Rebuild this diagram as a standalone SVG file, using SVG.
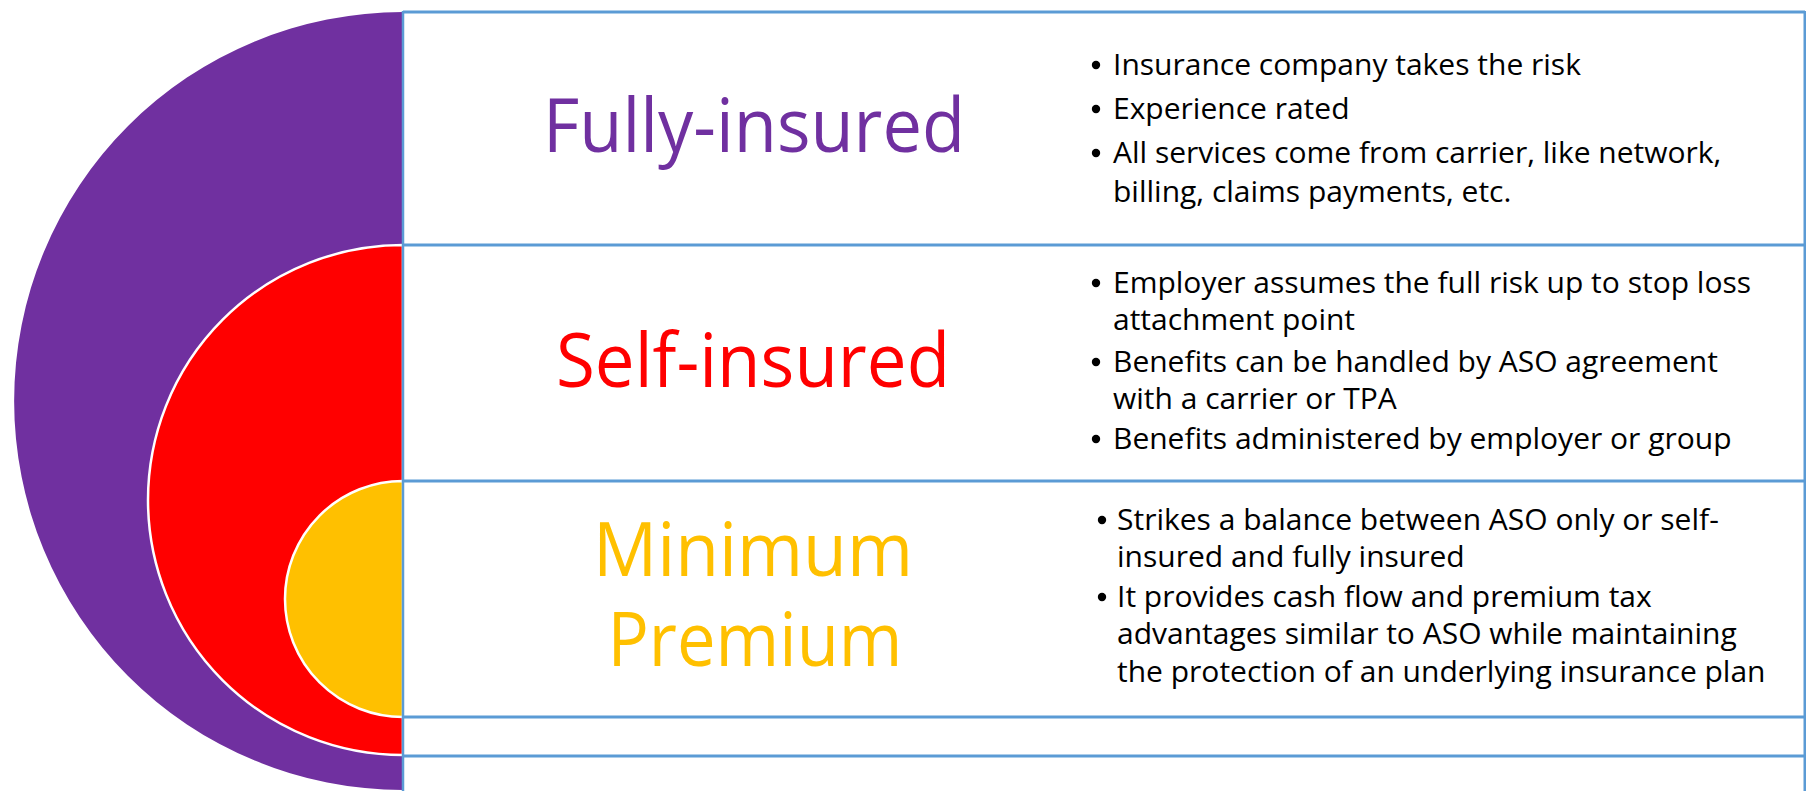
<svg xmlns="http://www.w3.org/2000/svg" width="1806" height="791" viewBox="0 0 1806 791">
<style>
.title{font-family:"Open Sans","Noto Sans","Liberation Sans",sans-serif;font-size:75px;text-anchor:middle}
.body{font-family:"Open Sans","Noto Sans","Liberation Sans",sans-serif;font-size:30px;fill:#000}
.dot{fill:#000}
.grid{stroke:#5B9BD5;stroke-width:3;fill:none}
.ring{stroke:#fff;stroke-width:2.5}
</style>
<rect x="0" y="0" width="1806" height="791" fill="#fff"/>
<g id="shape-fully-insured"><path d="M403,12 A389,389 0 0 0 403,790 Z" fill="#7030A0"/></g>
<g id="shape-self-insured"><path class="ring" d="M403,245 A255,255 0 0 0 403,755 Z" fill="#FF0000"/></g>
<g id="shape-minimum-premium"><path class="ring" d="M403,481 A118,118 0 0 0 403,717 Z" fill="#FFC000"/></g>
<g id="connectors" class="grid">
<line x1="403" y1="12" x2="1805" y2="12"/>
<line x1="403" y1="245" x2="1805" y2="245"/>
<line x1="403" y1="481" x2="1805" y2="481"/>
<line x1="403" y1="717" x2="1805" y2="717"/>
<line x1="403" y1="756" x2="1805" y2="756"/>
<line x1="403" y1="11" x2="403" y2="791" stroke-width="2.5"/>
<line x1="1805" y1="11" x2="1805" y2="791"/>
</g>
<g id="row-fully-insured">
<text class="title" x="754" y="152" fill="#7030A0" textLength="422" lengthAdjust="spacingAndGlyphs">Fully-insured</text>
<circle class="dot" cx="1096" cy="65" r="4.2"/>
<text class="body" x="1113" y="75">Insurance company takes the risk</text>
<circle class="dot" cx="1096" cy="109" r="4.2"/>
<text class="body" x="1113" y="119">Experience rated</text>
<circle class="dot" cx="1096" cy="153" r="4.2"/>
<text class="body" x="1113" y="163">All services come from carrier, like network,</text>
<text class="body" x="1113" y="202">billing, claims payments, etc.</text>
</g>
<g id="row-self-insured">
<text class="title" x="753" y="387" fill="#FF0000" textLength="394" lengthAdjust="spacingAndGlyphs">Self-insured</text>
<circle class="dot" cx="1096" cy="283" r="4.2"/>
<text class="body" x="1113" y="293">Employer assumes the full risk up to stop loss</text>
<text class="body" x="1113" y="330">attachment point</text>
<circle class="dot" cx="1096" cy="362" r="4.2"/>
<text class="body" x="1113" y="372">Benefits can be handled by ASO agreement</text>
<text class="body" x="1113" y="409">with a carrier or TPA</text>
<circle class="dot" cx="1096" cy="439" r="4.2"/>
<text class="body" x="1113" y="449">Benefits administered by employer or group</text>
</g>
<g id="row-minimum-premium">
<text class="title" x="753" y="576" fill="#FFC000" textLength="320" lengthAdjust="spacingAndGlyphs">Minimum</text>
<text class="title" x="755" y="666" fill="#FFC000" textLength="295" lengthAdjust="spacingAndGlyphs">Premium</text>
<circle class="dot" cx="1102" cy="520" r="4.2"/>
<text class="body" x="1117" y="530">Strikes a balance between ASO only or self-</text>
<text class="body" x="1117" y="567">insured and fully insured</text>
<circle class="dot" cx="1102" cy="597" r="4.2"/>
<text class="body" x="1117" y="607">It provides cash flow and premium tax</text>
<text class="body" x="1117" y="644">advantages similar to ASO while maintaining</text>
<text class="body" x="1117" y="682">the protection of an underlying insurance plan</text>
</g>
</svg>
